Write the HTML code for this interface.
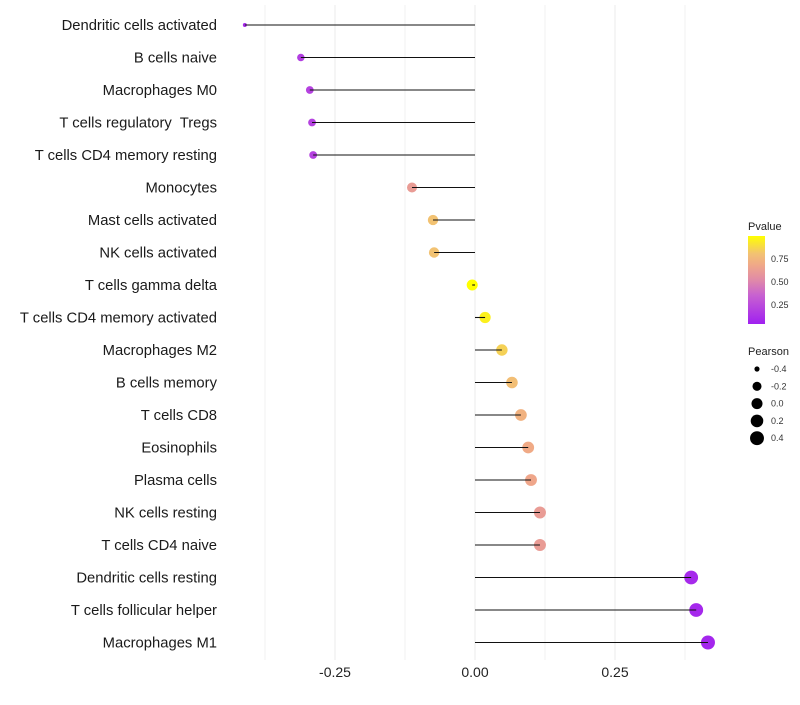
<!DOCTYPE html>
<html><head><meta charset="utf-8"><style>
body{margin:0;background:#fff;font-family:"Liberation Sans",sans-serif}
text{white-space:pre}
</style></head><body>
<svg id="c" width="800" height="700" xmlns="http://www.w3.org/2000/svg">
<defs><linearGradient id="pg" x1="0" y1="1" x2="0" y2="0">
<stop offset="0" stop-color="#a020f0"/><stop offset="0.33" stop-color="#c862d0"/><stop offset="0.5" stop-color="#e08aa8"/><stop offset="0.67" stop-color="#f0a888"/><stop offset="0.8" stop-color="#f2c272"/><stop offset="1" stop-color="#ffff00"/></linearGradient></defs>
<g id="grid"></g><g id="marks"></g><g id="labels"></g>
<g>
<text x="748" y="230" font-size="11" fill="#222">Pvalue</text>
<rect x="748" y="236" width="17" height="88" fill="url(#pg)"/>
<text x="771" y="262" font-size="9" fill="#333">0.75</text>
<text x="771" y="285" font-size="9" fill="#333">0.50</text>
<text x="771" y="308" font-size="9" fill="#333">0.25</text>
</g>
<g id="sizeleg">
<text x="748" y="355" font-size="11" fill="#222">Pearson</text>
</g>
</svg>
<script>
const cats=["Dendritic cells activated","B cells naive","Macrophages M0","T cells regulatory  Tregs","T cells CD4 memory resting","Monocytes","Mast cells activated","NK cells activated","T cells gamma delta","T cells CD4 memory activated","Macrophages M2","B cells memory","T cells CD8","Eosinophils","Plasma cells","NK cells resting","T cells CD4 naive","Dendritic cells resting","T cells follicular helper","Macrophages M1"];
const pearson=[-0.411,-0.311,-0.295,-0.291,-0.289,-0.1125,-0.075,-0.073,-0.005,0.018,0.048,0.066,0.082,0.095,0.1,0.116,0.116,0.386,0.395,0.416];
const pvalue=[0.05,0.15,0.17,0.17,0.17,0.6,0.8,0.8,1.0,0.95,0.85,0.78,0.72,0.68,0.66,0.6,0.6,0.05,0.04,0.03];
const xTicks=[-0.25,0,0.25];
const xTickLabels=["-0.25","0.00","0.25"];
const sizeVals=[-0.4,-0.2,0.0,0.2,0.4];
const NS="http://www.w3.org/2000/svg";
const X=v=>475+v*560;
const Y=i=>25+i*32.5;
const R=v=>2+5*Math.sqrt(Math.max(0,(v+0.411)/0.827));
const stops=[[0,[160,32,240]],[0.33,[200,98,208]],[0.5,[224,138,168]],[0.67,[240,168,136]],[0.8,[242,194,114]],[1,[255,255,0]]];
function col(p){for(let k=1;k<stops.length;k++){if(p<=stops[k][0]){const a=stops[k-1],b=stops[k],t=(p-a[0])/(b[0]-a[0]);return "rgb("+a[1].map((c,j)=>Math.round(c+(b[1][j]-c)*t)).join(",")+")";}}return "rgb(255,255,0)";}
function mk(t,at,parent){const e=document.createElementNS(NS,t);for(const k in at)e.setAttribute(k,at[k]);parent.appendChild(e);return e;}
const g=document.getElementById('grid'),m=document.getElementById('marks'),l=document.getElementById('labels');
[-0.375,-0.125,0.125,0.375].forEach(v=>{const e=mk('line',{x1:X(v),x2:X(v),y1:5,y2:660,stroke:'#f2f2f2','stroke-width':1},g);

});
xTicks.forEach((v,i)=>{const e=mk('line',{x1:X(v),x2:X(v),y1:5,y2:660,stroke:'#ebebeb','stroke-width':1},g);


const t=mk('text',{x:X(v),y:677,'font-size':14,'text-anchor':'middle',fill:'#222'},l);t.textContent=xTickLabels[i];

});
cats.forEach((c,i)=>{const y=Y(i);
const d=mk('circle',{cx:X(pearson[i]),cy:y,r:R(pearson[i]),fill:col(pvalue[i])},m);


const ln=mk('line',{x1:X(0),x2:X(pearson[i]),y1:y,y2:y,stroke:'#111','stroke-width':1.1},m);


const t=mk('text',{x:217,y:y+5,'font-size':14.8,'text-anchor':'end',fill:'#1a1a1a'},l);t.textContent=c;

});
const sl=document.getElementById('sizeleg');
sizeVals.forEach((v,i)=>{const y=369+i*17.3;
const d=mk('circle',{cx:757,cy:y,r:R(v),fill:'#000'},sl);


const t=mk('text',{x:771,y:y+3,'font-size':9,fill:'#333'},sl);t.textContent=v.toFixed(1);

});
</script>
</body></html>
